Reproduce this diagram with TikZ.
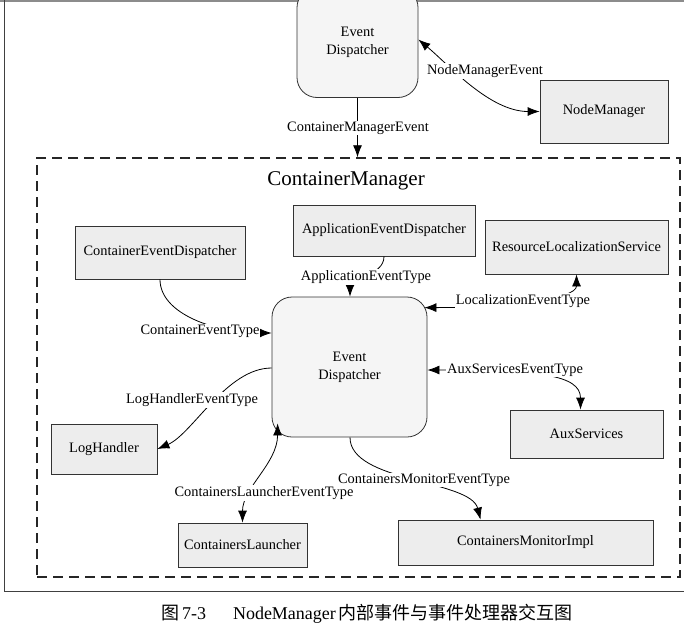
\documentclass[tikz,border=0pt]{standalone}
\usepackage{fontspec}
\setmainfont{Liberation Serif}
\newfontfamily\cjk{Noto Sans CJK SC}
\usetikzlibrary{arrows.meta,calc}
\begin{document}
\begin{tikzpicture}[x=1pt,y=-1pt,
  box/.style={draw=black!80, fill=black!7, line width=0.8pt, inner sep=0pt,
    font=\fontsize{14.4}{18}\selectfont},
  rbox/.style={box, rounded corners=20pt, fill=black!4, align=center},
  lbl/.style={fill=white, inner sep=1pt, font=\fontsize{14.4}{17}\selectfont},
  arr/.style={line width=0.8pt, -{Latex[length=12pt,width=9pt]}},
  arrb/.style={line width=0.8pt, {Latex[length=12pt,width=9pt]}-{Latex[length=12pt,width=9pt]}},
  dashbox/.style={draw=black!85, line width=1.4pt, dash pattern=on 10pt off 6pt, inner sep=0pt},
]
\useasboundingbox (0,0) rectangle (684,642);
\clip (0,0) rectangle (684,642);

% page frame
\draw[black!45, line width=2.5pt] (0,1.2) -- (684,1.2);
\draw[black!75, line width=1pt] (4,0) -- (4,591) -- (684,591);

% nodes
\node[rbox, minimum width=121pt, minimum height=110pt] (ed1) at (357.5,42.5) {Event\\Dispatcher};
\node[box, minimum width=128pt, minimum height=63pt] (nm) at (604,111.5) {NodeManager};
\node[dashbox, minimum width=643pt, minimum height=419pt] (cm) at (358.5,367.5) {};
\node[font=\fontsize{21}{24}\selectfont] (title) at (346,181) {ContainerManager};

\node[box, minimum width=170pt, minimum height=53pt] (ced) at (160,252.5) {ContainerEventDispatcher};
\node[box, minimum width=182pt, minimum height=51pt] (aed) at (384,230.5) {ApplicationEventDispatcher};
\node[box, minimum width=183pt, minimum height=54pt] (rls) at (576.5,247) {ResourceLocalizationService};
\node[rbox, minimum width=155pt, minimum height=140pt] (edin) at (349.5,367) {Event\\Dispatcher};
\node[box, minimum width=153pt, minimum height=48pt] (aux) at (586.5,434) {AuxServices};
\node[box, minimum width=106pt, minimum height=50pt] (lh) at (104,449) {LogHandler};
\node[box, minimum width=129pt, minimum height=44pt] (cl) at (242.5,545) {ContainersLauncher};
\node[box, minimum width=255pt, minimum height=45pt] (cmi) at (525.5,542.5) {ContainersMonitorImpl};

% connectors
\draw[arrb] ([yshift=3pt]ed1.east) .. controls +(30,25) and +(-50,0) .. (nm.west);
\draw[arr] (ed1.south) -- (ed1.south |- cm.north);
\draw[arr] (ced.south) .. controls +(0,35) and +(-55,0) .. ([yshift=34pt]edin.west);
\draw[arr] (aed.south) .. controls +(0,20) and +(0,-20) .. ([xshift=0.5pt]edin.north);
\draw[arrb] ([shift={(-3pt,-11pt)}]edin.north east) .. controls +(80,0) and +(0,25) .. (rls.south);
\draw[arrb] ([yshift=-3pt]edin.east) .. controls +(110,0) and +(0,-35) .. ([xshift=-6pt]aux.north);
\draw[arr] ([yshift=-1pt]edin.west) .. controls +(-45,0) and +(35,-15) .. (lh.east);
\draw[arrb] ([shift={(6pt,14pt)}]edin.south west) .. controls +(0,40) and +(0,-35) .. (cl.north);
\draw[arr] ([xshift=0.5pt]edin.south) .. controls +(0,45) and +(-10,-40) .. ([xshift=-45pt]cmi.north);

% labels
\node[lbl] (l1) at (485,71) {NodeManagerEvent};
\node[lbl] (l2) at (358,128) {ContainerManagerEvent};
\node[lbl] (l3) at (200,331) {ContainerEventType};
\node[lbl] (l4) at (366,277) {ApplicationEventType};
\node[lbl] (l5) at (523,301) {LocalizationEventType};
\node[lbl] (l6) at (515,370) {AuxServicesEventType};
\node[lbl] (l7) at (192,400) {LogHandlerEventType};
\node[lbl] (l9) at (424,480) {ContainersMonitorEventType};
\node[lbl] (l8) at (264,493) {ContainersLauncherEventType};

% caption
\node[font=\fontsize{18}{21}\selectfont] (cap) at (367,614)
  {{\cjk 图}\,7-3\hspace{1.5em}NodeManager\,{\cjk 内部事件与事件处理器交互图}};
\end{tikzpicture}
\end{document}
